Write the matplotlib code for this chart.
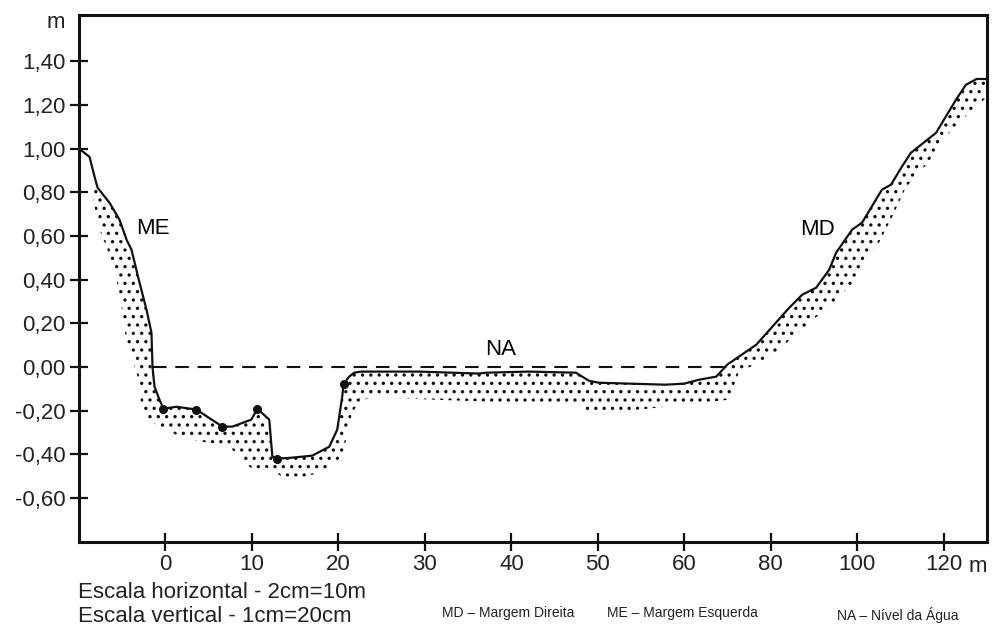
import numpy as np
import matplotlib
matplotlib.use("Agg")
import matplotlib.pyplot as plt

plt.rcParams['font.family'] = ['Liberation Sans', 'DejaVu Sans']
plt.rcParams['hatch.linewidth'] = 1.2

# perfil do leito (distancia em m, cota em m)
perfil_x = [-10.0, -8.78, -8.20, -7.85, -6.47, -5.31, -4.50, -3.93, -3.00, -2.19,
            -1.62, -1.50, -1.27, -0.69, -0.23, 1.27, 3.58, 6.58, 7.74, 9.93,
            10.62, 12.0, 12.36, 12.93, 14.67, 16.97, 18.94, 19.86, 20.44, 20.6,
            21.25, 21.82, 22.63, 29.3, 36.26, 37.07, 42.0, 47.46, 48.96, 50.12,
            57.85, 60.0, 63.46, 67.39, 69.93, 76.63, 84.25, 87.25, 90.48, 93.49,
            95.10, 98.8, 101.1, 105.7, 107.8, 110.3, 112.4, 118.2, 122.8, 125.1,
            127.6, 130.0]
perfil_y = [1.00, 0.962, 0.871, 0.821, 0.752, 0.674, 0.583, 0.537, 0.386, 0.262,
            0.157, 0.00, -0.090, -0.150, -0.191, -0.182, -0.195, -0.273, -0.273, -0.241,
            -0.191, -0.241, -0.410, -0.420, -0.415, -0.406, -0.365, -0.287, -0.135, -0.076,
            -0.044, -0.026, -0.021, -0.021, -0.030, -0.026, -0.021, -0.026, -0.063, -0.072,
            -0.081, -0.076, -0.058, -0.044, 0.011, 0.102, 0.271, 0.331, 0.363, 0.445,
            0.523, 0.629, 0.661, 0.812, 0.835, 0.917, 0.981, 1.072, 1.223, 1.292,
            1.319, 1.319]

# pontos medidos
pontos_x = [-0.23, 3.58, 6.58, 10.62, 12.93, 20.6]
pontos_y = [-0.191, -0.195, -0.273, -0.191, -0.420, -0.076]

# limite inferior da faixa de sedimentos
sed_x = [-8.55, -7.62, -6.47, -5.66, -5.08, -4.50, -3.81, -3.00, -2.77, -2.19,
         0.12, 1.62, 4.27, 7.39, 10.05, 11.66, 13.51, 16.28, 18.13, 20.44,
         21.59, 22.63, 24.7, 37.4, 47.8, 49.3, 57.85, 70.2, 72.7, 78.98,
         82.6, 87.2, 95.1, 99.7, 101.1, 105.0, 108.1, 111.3, 115.0, 118.2,
         121.2, 125.8, 130.0]
sed_y = [0.798, 0.628, 0.514, 0.400, 0.276, 0.111, 0.033, -0.072, -0.209, -0.241,
         -0.287, -0.319, -0.342, -0.365, -0.470, -0.461, -0.502, -0.502, -0.479, -0.410,
         -0.209, -0.150, -0.140, -0.159, -0.172, -0.218, -0.182, -0.150, -0.021, 0.033,
         0.093, 0.171, 0.308, 0.400, 0.478, 0.569, 0.688, 0.825, 0.903, 0.981,
         1.072, 1.163, 1.236]

# nivel da agua
na_x = [-1.5, 69.9]
na_y = [0.0, 0.0]

xticks = [0, 10, 20, 30, 40, 50, 60, 80, 100, 120]
yticks = [-0.6, -0.4, -0.2, 0.0, 0.2, 0.4, 0.6, 0.8, 1.0, 1.2, 1.4]


def fwd(x):
    x = np.asarray(x, dtype=float)
    return np.where(x <= 60, x / 10.0, 6 + (x - 60) / 20.0)


def inv(u):
    u = np.asarray(u, dtype=float)
    return np.where(u <= 6, u * 10.0, 60 + (u - 6) * 20.0)


fig = plt.figure(figsize=(9.92, 6.26), dpi=100)
ax = fig.add_axes([79 / 992, 1 - 541.7 / 626, (987 - 79) / 992, (541.7 - 15) / 626])
ax.set_xscale('function', functions=(fwd, inv))

# faixa pontilhada
px = np.array(perfil_x)
py = np.array(perfil_y)
m = px >= -7.85
poly_x = np.concatenate([px[m], np.array(sed_x)[::-1]])
poly_y = np.concatenate([py[m], np.array(sed_y)[::-1]])
ax.fill(poly_x, poly_y, facecolor='none', edgecolor='#111111', linewidth=0,
        hatch='..')

ax.plot(perfil_x, perfil_y, color='#111111', lw=1.6, solid_capstyle='round')
ax.plot(pontos_x, pontos_y, 'o', color='#111111', ms=5.5)
ax.plot(na_x, na_y, color='#111111', lw=1.5, dashes=(6.5, 4.2))

ax.text(-1.5, 0.633, 'ME', fontsize=16, ha='center', va='center')
ax.text(90.7, 0.63, 'MD', fontsize=16, ha='center', va='center')
ax.text(38.7, 0.079, 'NA', fontsize=16, ha='center', va='center')

ax.set_xlim(-10, 130)
ax.set_ylim(-0.80, 1.612)
ax.set_xticks(xticks)
ax.set_xticklabels([str(t) for t in xticks])
ax.set_yticks(yticks)
ax.set_yticklabels([('%.2f' % t).replace('.', ',').replace('-0,00', '0,00') for t in yticks])
ax.tick_params(axis='both', direction='inout', length=13, width=1.6,
               labelsize=16, color='#111111', labelcolor='#222222')
ax.tick_params(axis='x', pad=2)
ax.tick_params(axis='y', pad=3)
for s in ax.spines.values():
    s.set_linewidth(2.2)
    s.set_color('#111111')

fig.text(56 / 992, 1 - 23 / 626, 'm', fontsize=16, ha='center', va='center', color='#222222')
fig.text(978 / 992, 1 - 567 / 626, 'm', fontsize=16, ha='center', va='center', color='#222222')
fig.text(78 / 992, 1 - 592 / 626, 'Escala horizontal - 2cm=10m', fontsize=16, va='center', color='#222222')
fig.text(78 / 992, 1 - 617 / 626, 'Escala vertical - 1cm=20cm', fontsize=16, va='center', color='#222222')
fig.text(442 / 992, 1 - 613 / 626, 'MD \u2013 Margem Direita', fontsize=10, va='center', color='#222222')
fig.text(607 / 992, 1 - 613 / 626, 'ME \u2013 Margem Esquerda', fontsize=10, va='center', color='#222222')
fig.text(837 / 992, 1 - 615 / 626, 'NA \u2013 N\u00edvel da \u00c1gua', fontsize=10, va='center', color='#222222')

fig.savefig('out.png', dpi=100)
